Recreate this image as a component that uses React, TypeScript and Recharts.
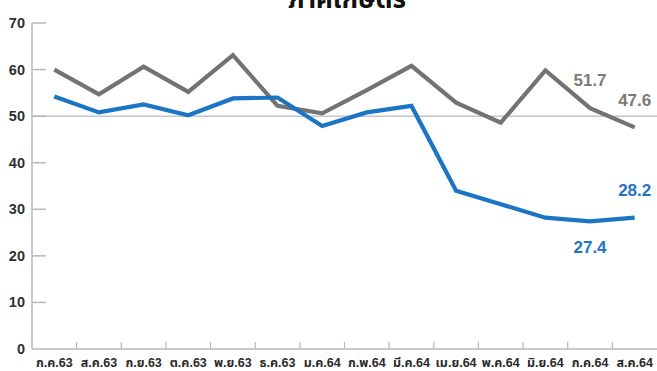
import React from 'react';
import { LineChart, Line, XAxis, YAxis, ReferenceLine } from 'recharts';

const months = ['ก.ค.63', 'ส.ค.63', 'ก.ย.63', 'ต.ค.63', 'พ.ย.63', 'ธ.ค.63', 'ม.ค.64', 'ก.พ.64', 'มี.ค.64', 'เม.ย.64', 'พ.ค.64', 'มิ.ย.64', 'ก.ค.64', 'ส.ค.64'];
const grayValues = [60.0, 54.7, 60.6, 55.2, 63.1, 52.2, 50.6, 55.6, 60.8, 52.9, 48.6, 59.8, 51.7, 47.6];
const blueValues = [54.2, 50.8, 52.5, 50.2, 53.8, 54.0, 47.9, 50.8, 52.2, 34.0, 31.1, 28.2, 27.4, 28.2];
const yTicks = [0, 10, 20, 30, 40, 50, 60, 70];
const referenceValue = 50;
const title = 'ภาคเกษตร';

const grayLabelIdx = [12, 13];
const blueLabelIdx = [12, 13];

const data = months.map((m, i) => ({ i, month: m, gray: grayValues[i], blue: blueValues[i] }));
const labelTicks = months.map((_, i) => i);
const boundaryTicks = months.slice(1).map((_, i) => i + 0.5);
const xTicks = [...labelTicks, ...boundaryTicks].sort((a, b) => a - b);

const FONT = 'Arial, "Liberation Sans", "Noto Sans Thai", "Noto Sans", sans-serif';
const GRAY = '#737373';
const BLUE = '#1b74c4';
const AXIS = '#b8b8b8';

const XTick = (props: any) => {
  const { x, y, payload } = props;
  const v = payload.value;
  if (Number.isInteger(v)) {
    return (
      <text x={x} y={y + 18} textAnchor="middle" fontSize={12.5} fontWeight={700} fill="#2a2a2a" fontFamily={FONT}>
        {months[v]}
      </text>
    );
  }
  return <line x1={x} x2={x} y1={y} y2={y - 7} stroke={AXIS} strokeWidth={1.2} />;
};

const YTick = (props: any) => {
  const { x, y, payload } = props;
  return (
    <g>
      {payload.value !== 0 && <line x1={x} x2={x + 14} y1={y} y2={y} stroke={AXIS} strokeWidth={1.5} />}
      <text x={x - 7} y={y} dy={5} textAnchor="end" fontSize={14.5} fontWeight={700} fill="#2f2f2f" fontFamily={FONT}>
        {payload.value}
      </text>
    </g>
  );
};

const makeLabel = (idxs: number[], color: string, offsets: Record<number, number>) => (props: any) => {
  const { x, y, index, value } = props;
  if (!idxs.includes(index)) return null;
  return (
    <text key={`l${index}`} x={x} y={y + offsets[index]} dy={6} textAnchor="middle" fontSize={17} fontWeight={700} fill={color} fontFamily={FONT}>
      {value}
    </text>
  );
};

const grayLabel = makeLabel(grayLabelIdx, '#7a7a7a', { 12: -28, 13: -27 });
const blueLabel = makeLabel(blueLabelIdx, '#1f74c4', { 12: 26, 13: -28 });

export default function App() {
  return (
    <div style={{ position: 'absolute', left: 0, top: 0, width: 657, height: 371, background: '#fff', overflow: 'hidden' }}>
      <svg width={657} height={20} style={{ position: 'absolute', left: 0, top: 0 }}>
        <text x={347} y={8} textAnchor="middle" fontSize={26} fontWeight={700} fill="#111" fontFamily={FONT}>
          {title}
        </text>
      </svg>
      <LineChart width={657} height={371} data={data} margin={{ top: 23, right: 0, bottom: 0, left: 0 }}>
        <XAxis
          dataKey="i"
          type="number"
          domain={[-0.5, 13.5]}
          ticks={xTicks}
          interval={0}
          tickLine={false}
          tickSize={0}
          tickMargin={0}
          height={22}
          axisLine={{ stroke: AXIS, strokeWidth: 1.5 }}
          tick={<XTick />}
        />
        <YAxis
          domain={[0, 70]}
          ticks={yTicks}
          interval={0}
          width={32}
          tickLine={false}
          tickSize={0}
          tickMargin={0}
          axisLine={{ stroke: AXIS, strokeWidth: 1.5 }}
          tick={<YTick />}
        />
        <ReferenceLine y={referenceValue} stroke="#c4c4cc" strokeWidth={1.5} />
        <Line dataKey="gray" stroke={GRAY} strokeWidth={4.2} dot={false} isAnimationActive={false} label={grayLabel} />
        <Line dataKey="blue" stroke={BLUE} strokeWidth={4.2} dot={false} isAnimationActive={false} label={blueLabel} />
      </LineChart>
    </div>
  );
}
